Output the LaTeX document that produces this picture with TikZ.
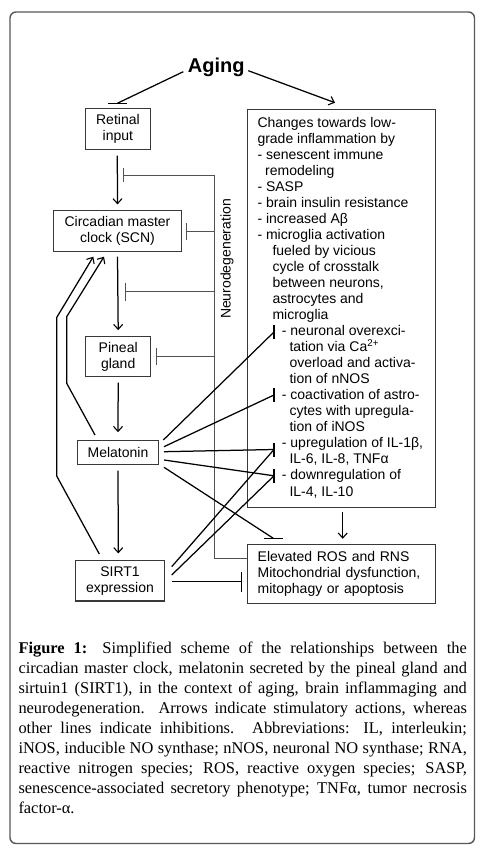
\documentclass[tikz,border=0pt]{standalone}
\usepackage{fontspec}
\setmainfont{Liberation Serif}
\setsansfont{Liberation Sans}
\usetikzlibrary{arrows.meta}
\newcommand{\capline}[1]{\makebox[448.4pt][s]{#1}}
\begin{document}
\begin{tikzpicture}[x=1pt,y=-1pt,
  every node/.style={inner sep=0pt},
  box/.style={draw=black!78, line width=1.1pt, font=\sffamily\fontsize{14}{16}\selectfont, align=center},
  txt/.style={font=\sffamily\fontsize{14}{16.03}\selectfont, align=left},
  conn/.style={line width=1.25pt, draw=black},
  act/.style={conn, -{Straight Barb[length=5pt,width=9pt,line width=1.1pt]}},
  inh/.style={line width=1.25pt, draw=black},
  neuro/.style={line width=1pt, draw=black!68},
  frame/.style={draw=black!65, line width=1.4pt, rounded corners=6pt},
]
\useasboundingbox (0,0) rectangle (482,854);
\fill[white] (0,0) rectangle (482,854);
\draw[frame] (10,12) rectangle (474.5,843.5);

% title
\node[font=\sffamily\bfseries\fontsize{20}{24}\selectfont, anchor=base] (aging) at (216.3,72.7) {Aging};

% boxes
\node[box, minimum width=64.3pt, minimum height=41pt] (retinal) at (117.9,128.8) {Retinal\\input};
\node[box, minimum width=128.4pt, minimum height=41pt] (scn) at (117.5,231.2) {Circadian master\\clock (SCN)};
\node[box, minimum width=65pt, minimum height=40pt] (pineal) at (118.2,356.7) {Pineal\\gland};
\node[box, minimum width=80.6pt, minimum height=24.3pt] (melatonin) at (118,452.2) {Melatonin};
\node[box, minimum width=88.6pt, minimum height=40.3pt] (sirt) at (120,580.8) {SIRT1\\expression};
\node[box, minimum width=187.6pt, minimum height=398pt] (changes) at (341.5,308.3) {};
\node[box, align=left, text width=168pt, inner xsep=9.8pt, minimum height=59pt] (ros) at (341.7,573.8) {Elevated ROS and RNS\\Mitochondrial dysfunction,\\mitophagy or apoptosis};

% text of the changes box (base anchor = baseline of last line)
\node[txt, anchor=base west] (chtext) at (257.3,496.0) {%
Changes towards low-\\
grade inflammation by\\
- senescent immune\\
\hspace*{7.7pt}remodeling\\
- SASP\\
- brain insulin resistance\\
- increased Aβ\\
- microglia activation\\
\hspace*{15pt}fueled by vicious\\
\hspace*{15pt}cycle of crosstalk\\
\hspace*{15pt}between neurons,\\
\hspace*{15pt}astrocytes and\\
\hspace*{15pt}microglia\\
\hspace*{24.4pt}- neuronal overexci-\\
\hspace*{32pt}tation via Ca\textsuperscript{2+}\\
\hspace*{32pt}overload and activa-\\
\hspace*{32pt}tion of nNOS\\
\hspace*{24.4pt}- coactivation of astro-\\
\hspace*{32pt}cytes with upregula-\\
\hspace*{32pt}tion of iNOS\\
\hspace*{24.4pt}- upregulation of IL-1β,\\
\hspace*{32pt}IL-6, IL-8, TNFα\\
\hspace*{24.4pt}- downregulation of\\
\hspace*{32pt}IL-4, IL-10};

% Aging connectors
\coordinate (agL) at (183.3,71.7);
\coordinate (agR) at (248.3,70.7);
\coordinate (retbar) at (117.3,103.3);
\coordinate (chtip) at (335,102.7);
\draw[conn] (agL) -- (retbar);
\draw[inh] ([xshift=-9.5pt]retbar) -- ([xshift=9.5pt]retbar);
\draw[act] (agR) -- (chtip);

% main chain
\draw[act] ([xshift=-0.6pt,yshift=-5.7pt]retinal.south) -- ([yshift=5.7pt]scn.north);
\draw[act] ([yshift=-4.3pt]scn.south) -- ([yshift=6pt]pineal.north);
\draw[act] ([yshift=-5.3pt]pineal.south) -- ([yshift=7.3pt]melatonin.north);
\draw[act] ([yshift=-5.7pt]melatonin.south) -- ([xshift=-1.7pt,yshift=6.7pt]sirt.north);
\draw[act] ([xshift=1.2pt,yshift=-3.7pt]changes.south) -- ([xshift=1pt,yshift=5pt]ros.north);

% Neurodegeneration
\coordinate (nTop) at (214.3,175);
\coordinate (nBot) at (214.3,558.3);
\coordinate (n1) at (123.3,175);
\coordinate (n2a) at (214.3,231.7); \coordinate (n2) at (186.7,231.7);
\coordinate (n3a) at (214.3,291.7); \coordinate (n3) at (125,291.7);
\coordinate (n4a) at (214.3,356.7); \coordinate (n4) at (156.7,356.7);
\draw[neuro] (ros.west |- nBot) -- (nBot) -- (nTop) -- (n1);
\draw[neuro] (n2a) -- (n2);
\draw[neuro] (n3a) -- (n3);
\draw[neuro] (n4a) -- (n4);
\draw[neuro] ([yshift=7pt]n1) -- ([yshift=-7pt]n1);
\draw[neuro] ([yshift=8.3pt]n2) -- ([yshift=-8.3pt]n2);
\draw[neuro] ([yshift=9.2pt]n3) -- ([yshift=-9.2pt]n3);
\draw[neuro] ([yshift=8.3pt]n4) -- ([yshift=-8.3pt]n4);
\node[font=\sffamily\fontsize{14}{16}\selectfont, rotate=90, anchor=base] (neurotxt) at (230.5,259) {Neurodegeneration};

% feedback to SCN
\coordinate (o1) at (99.3,554); \coordinate (o2) at (56.7,476);
\coordinate (o3) at (56.7,317.5); \coordinate (o4) at (93.3,256.7);
\coordinate (i1) at (95,435); \coordinate (i2) at (66.7,383.3);
\coordinate (i3) at (66.7,316.7); \coordinate (i4) at (104,256.7);
\draw[act] (o1) -- (o2) -- (o3) -- (o4);
\draw[act] (i1) -- (i2) -- (i3) -- (i4);

% inhibitions from Melatonin and SIRT1
\coordinate (b1) at (274,332); \coordinate (b2) at (274,395);
\coordinate (b3) at (274,449.5); \coordinate (b4) at (274,475.8);
\coordinate (b5) at (273.3,538.3); \coordinate (b6) at (241.7,581.7);
\coordinate (m1) at (163.3,440); \coordinate (m2) at (164,446.7);
\coordinate (m3) at (164,451.7); \coordinate (m4) at (164,460);
\coordinate (m5) at (164,467.3);
\coordinate (s1) at (171.7,566.7); \coordinate (s2) at (171.7,575);
\coordinate (s3) at (171.7,581.7);
\draw[inh] (m1) -- (b1);
\draw[inh] (m2) -- (b2);
\draw[inh] (m3) -- (b3);
\draw[inh] (m4) -- (b4);
\draw[inh] (m5) -- (b5);
\draw[inh] (s1) -- (b3);
\draw[inh] (s2) -- (b4);
\draw[inh] (s3) -- (b6);
\foreach \b in {b1,b2,b3,b4}{\draw[inh] ([yshift=7pt]\b) -- ([yshift=-7pt]\b);}
\draw[inh] ([xshift=-9.7pt]b5) -- ([xshift=9.7pt]b5);
\draw[inh] ([yshift=10pt]b6) -- ([yshift=-10pt]b6);

% caption (base anchor = baseline of last line)
\node[anchor=base west, font=\rmfamily\fontsize{16.4}{20}\selectfont, align=left] (caption) at (18.3,813.3) {%
\capline{\textbf{Figure 1:} Simplified scheme of the relationships between the}\\
\capline{circadian master clock, melatonin secreted by the pineal gland and}\\
\capline{sirtuin1 (SIRT1), in the context of aging, brain inflammaging and}\\
\capline{neurodegeneration. Arrows indicate stimulatory actions, whereas}\\
\capline{other lines indicate inhibitions. Abbreviations: IL, interleukin;}\\
\capline{iNOS, inducible NO synthase; nNOS, neuronal NO synthase; RNA,}\\
\capline{reactive nitrogen species; ROS, reactive oxygen species; SASP,}\\
\capline{senescence-associated secretory phenotype; TNFα, tumor necrosis}\\
factor-α.};
\end{tikzpicture}
\end{document}
